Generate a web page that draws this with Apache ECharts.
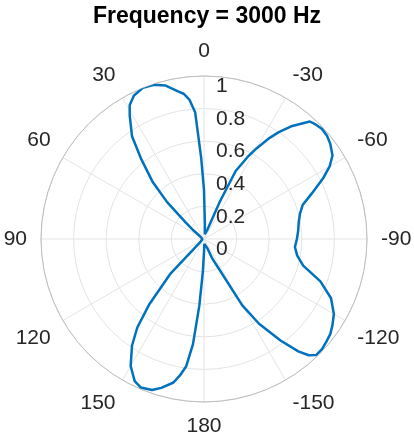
<!DOCTYPE html>
<html>
<head>
<meta charset="utf-8">
<script src="https://cdn.jsdelivr.net/npm/echarts@6/dist/echarts.min.js"></script>
<style>html,body{margin:0;padding:0;background:#fff}#chart{width:414px;height:438px}</style>
</head>
<body>
<div id="chart"></div>
<script>
// angle in degrees (MATLAB convention: 0 at top, counter-clockwise)
const angles = [0, 2, 4, 6, 8, 10, 14, 18, 22, 26, 29, 31, 35, 38, 42, 45, 48, 51, 55, 90,
  130, 136, 140, 143, 146, 150, 154, 157, 161, 164, 168, 170, 172, 174, 176, 178, 180,
  -176, -168, -160, -157, -150, -147, -143, -140, -138, -136, -133, -130, -127, -124, -120, -115, -110,
  -105, -100, -95, -90, -85, -80, -75, -71, -67, -63, -60, -57, -53, -50, -47, -44, -42, -38, -35,
  -33, -30, -28, -25, -23, -20, -10, -3];
const radii = [0.30, 0.50, 0.78, 0.86, 0.90, 0.92, 0.97, 0.995, 1.00, 0.98, 0.94, 0.885, 0.77, 0.63, 0.47, 0.32, 0.15, 0.08, 0.03, 0.01,
  0.03, 0.30, 0.52, 0.68, 0.79, 0.90, 0.97, 0.99, 0.98, 0.95, 0.90, 0.85, 0.79, 0.65, 0.41, 0.20, 0.08,
  0.03, 0.03, 0.06, 0.13, 0.47, 0.62, 0.78, 0.90, 0.96, 0.99, 0.99, 0.98, 0.97, 0.95, 0.92, 0.86, 0.76,
  0.63, 0.58, 0.56, 0.57, 0.58, 0.59, 0.61, 0.64, 0.72, 0.82, 0.89, 0.94, 0.97, 0.985, 0.99, 0.98, 0.97, 0.88, 0.80,
  0.74, 0.64, 0.57, 0.46, 0.25, 0.06, 0.03, 0.10];
const radiusTicks = [0, 0.2, 0.4, 0.6, 0.8, 1];

const points = angles.map((a, i) => [radii[i], (a + 360) % 360]);
points.sort((p, q) => p[1] - q[1]);
points.push([points[0][0], 360]);

const chart = echarts.init(document.getElementById('chart'));
chart.setOption({
  animation: false,
  textStyle: { fontFamily: 'Liberation Sans' },
  title: {
    text: 'Frequency = 3000 Hz', left: 'center', top: 0,
    textStyle: { fontSize: 23, fontWeight: 'bold', color: '#000', fontFamily: 'Liberation Sans' }
  },
  polar: { center: [204, 239], radius: 163 },
  angleAxis: {
    type: 'value', min: 0, max: 360, interval: 30, startAngle: 90, clockwise: false,
    axisLine: { lineStyle: { color: '#bdbdbd', width: 1 } },
    axisTick: { show: false },
    splitLine: { lineStyle: { color: '#e3e3e3' } },
    axisLabel: {
      fontSize: 21, color: '#262626', margin: 14, fontFamily: 'Liberation Sans',
      formatter: v => (v === 360 ? '' : String(v > 180 ? v - 360 : v))
    }
  },
  radiusAxis: {
    type: 'value', min: radiusTicks[0], max: radiusTicks[radiusTicks.length - 1], interval: 0.2,
    axisLine: { show: false }, axisTick: { show: false },
    splitLine: { lineStyle: { color: '#e3e3e3' } },
    axisLabel: { fontSize: 21, color: '#262626', align: 'left', margin: -12, verticalAlign: 'top', fontFamily: 'Liberation Sans' }
  },
  series: [{
    type: 'line', coordinateSystem: 'polar', data: points, smooth: false, showSymbol: false,
    lineStyle: { color: '#0072BD', width: 2.5 }
  }]
});
</script>
</body>
</html>
